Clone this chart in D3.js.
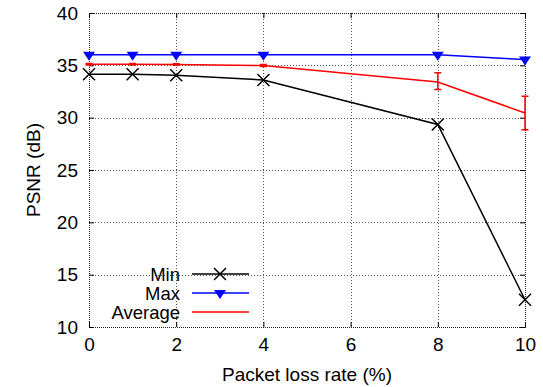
<!DOCTYPE html>
<html>
<head>
<meta charset="utf-8">
<script src="https://cdn.jsdelivr.net/npm/d3@7"></script>
<style>
  html, body { margin: 0; padding: 0; background: #fff; }
  svg { display: block; }
  text { font-family: "Liberation Sans", Arial, Helvetica, sans-serif; fill: #000; }
</style>
</head>
<body>
<svg id="chart" width="543" height="387"></svg>
<script>
// Packet loss rate (%) and PSNR results
const lossRates = [0, 1, 2, 4, 8, 10];
const minPSNR = [34.15, 34.15, 34.05, 33.6, 29.35, 12.6];
const maxPSNR = [36.0, 36.0, 36.0, 36.0, 36.0, 35.55];
const avgPSNR = [35.1, 35.1, 35.08, 34.98, 33.4, 30.45];
const avgLow  = [35.03, 35.03, 35.0, 34.88, 32.7, 28.85];
const avgHigh = [35.17, 35.17, 35.15, 35.08, 34.3, 32.05];
const xTicks = [0, 2, 4, 6, 8, 10];
const yTicks = [10, 15, 20, 25, 30, 35, 40];
const seriesNames = ["Min", "Max", "Average"];

const svg = d3.select("#chart");
const plotL = 89, plotR = 525, plotT = 13, plotB = 327;
const fontSize = 19, legendFont = 18.5;

const x = d3.scaleLinear().domain([0, 10]).range([plotL, plotR]);
const y = d3.scaleLinear().domain([10, 40]).range([plotB, plotT]);

// grid
const grid = svg.append("g").attr("stroke", "#555").attr("stroke-width", 1)
  .attr("stroke-dasharray", "1,2").attr("shape-rendering", "crispEdges");
xTicks.slice(1, -1).forEach(t => grid.append("line")
  .attr("x1", Math.round(x(t)) + 0.5).attr("x2", Math.round(x(t)) + 0.5)
  .attr("y1", plotT).attr("y2", plotB));
yTicks.slice(1, -1).forEach(t => grid.append("line")
  .attr("x1", plotL).attr("x2", plotR)
  .attr("y1", Math.round(y(t)) + 0.5).attr("y2", Math.round(y(t)) + 0.5));

// frame
svg.append("rect").attr("x", plotL + 0.5).attr("y", plotT + 0.5)
  .attr("width", plotR - plotL).attr("height", plotB - plotT)
  .attr("fill", "none").attr("stroke", "#222").attr("stroke-width", 1)
  .attr("stroke-dasharray", "1,1").attr("shape-rendering", "crispEdges");

// axes with inward ticks on all four sides
const tickLen = 5;
const axB = d3.axisBottom(x).tickValues(xTicks).tickSizeInner(-tickLen).tickSizeOuter(0).tickPadding(11);
const axT = d3.axisTop(x).tickValues(xTicks).tickSizeInner(-tickLen).tickSizeOuter(0).tickFormat("");
const axL = d3.axisLeft(y).tickValues(yTicks).tickSizeInner(-tickLen).tickSizeOuter(0).tickPadding(11);
const axR = d3.axisRight(y).tickValues(yTicks).tickSizeInner(-tickLen).tickSizeOuter(0).tickFormat("");

function styleAxis(g) {
  g.select(".domain").remove();
  g.selectAll("line").attr("stroke", "#000").attr("stroke-width", 1);
  g.selectAll("text").attr("font-size", fontSize).attr("font-family", "Liberation Sans, Arial, sans-serif");
}
svg.append("g").attr("transform", `translate(0,${plotB})`).call(axB).call(styleAxis);
svg.append("g").attr("transform", `translate(0,${plotT})`).call(axT).call(styleAxis);
svg.append("g").attr("transform", `translate(${plotL},0)`).call(axL).call(styleAxis);
svg.append("g").attr("transform", `translate(${plotR},0)`).call(axR).call(styleAxis);

// axis titles
svg.append("text").attr("x", (plotL + plotR) / 2).attr("y", 381)
  .attr("text-anchor", "middle").attr("font-size", fontSize).text("Packet loss rate (%)");
svg.append("text").attr("transform", `translate(40,${(plotT + plotB) / 2}) rotate(-90)`)
  .attr("text-anchor", "middle").attr("font-size", fontSize).text("PSNR (dB)");

const line = d3.line().x(d => x(d[0])).y(d => y(d[1]));

// marker helpers
function crossPath(cx, cy, s) {
  return `M${cx - s},${cy - s}L${cx + s},${cy + s}M${cx - s},${cy + s}L${cx + s},${cy - s}`;
}
function triPath(cx, cy) {
  return `M${cx - 6},${cy - 4}L${cx + 6},${cy - 4}L${cx},${cy + 5}Z`;
}

// Average series with error bars
const avgG = svg.append("g");
avgG.append("path").datum(lossRates.map((r, i) => [r, avgPSNR[i]]))
  .attr("d", line).attr("fill", "none").attr("stroke", "#ff0000").attr("stroke-width", 1.5);
lossRates.forEach((r, i) => {
  const cx = x(r);
  avgG.append("path")
    .attr("d", `M${cx},${y(avgLow[i])}L${cx},${y(avgHigh[i])}M${cx - 3.5},${y(avgLow[i])}L${cx + 3.5},${y(avgLow[i])}M${cx - 3.5},${y(avgHigh[i])}L${cx + 3.5},${y(avgHigh[i])}`)
    .attr("stroke", "#ff0000").attr("stroke-width", 1.5).attr("fill", "none");
});

// Max series
const maxG = svg.append("g");
maxG.append("path").datum(lossRates.map((r, i) => [r, maxPSNR[i]]))
  .attr("d", line).attr("fill", "none").attr("stroke", "#0000ff").attr("stroke-width", 1.5);
lossRates.forEach((r, i) => {
  maxG.append("path").attr("d", triPath(x(r), y(maxPSNR[i]) + 1)).attr("fill", "#0000ff");
});

// Min series
const minG = svg.append("g");
minG.append("path").datum(lossRates.map((r, i) => [r, minPSNR[i]]))
  .attr("d", line).attr("fill", "none").attr("stroke", "#000").attr("stroke-width", 1.5);
lossRates.forEach((r, i) => {
  minG.append("path").attr("d", crossPath(x(r), y(minPSNR[i]), 6))
    .attr("stroke", "#000").attr("stroke-width", 1.5).attr("fill", "none");
});

// legend
const legendRows = [274, 293, 312];
const colors = ["#000", "#0000ff", "#ff0000"];
seriesNames.forEach((name, i) => {
  const ly = legendRows[i];
  svg.append("text").attr("x", 180).attr("y", ly + 6.5).attr("text-anchor", "end")
    .attr("font-size", legendFont).text(name);
  svg.append("line").attr("x1", 192).attr("x2", 249).attr("y1", ly).attr("y2", ly)
    .attr("stroke", colors[i]).attr("stroke-width", 1.5);
  if (i === 0) svg.append("path").attr("d", crossPath(220, ly, 6)).attr("stroke", "#000").attr("stroke-width", 1.5);
  if (i === 1) svg.append("path").attr("d", triPath(220, ly + 1)).attr("fill", "#0000ff");
});
</script>
</body>
</html>
